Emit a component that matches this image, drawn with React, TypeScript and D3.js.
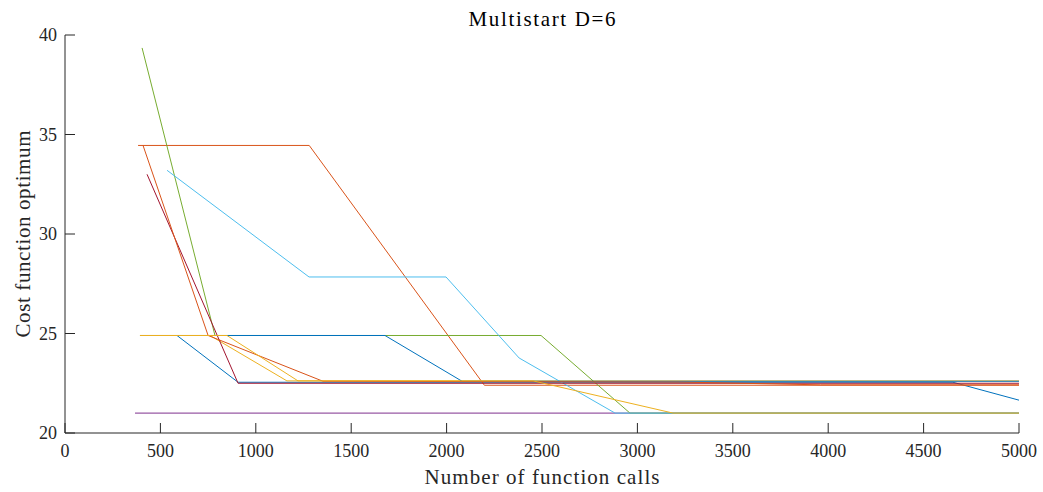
import React from 'react';
import * as d3 from 'd3';

// each run: [function calls, best cost so far]
const run1 = [[587, 24.9], [907, 22.55], [4654, 22.55], [5000, 21.65]];
const run2 = [[383, 34.45], [1280, 34.45], [2198, 22.4], [5000, 22.4]];
const run3 = [[393, 24.9], [760, 24.9], [1163, 22.62], [5000, 22.62]];
const run4 = [[367, 21.0], [5000, 21.0]];
const run5 = [[404, 39.35], [786, 24.9], [2495, 24.9], [2961, 21.0], [5000, 21.0]];
const run6 = [[535, 33.2], [1279, 27.84], [1997, 27.84], [2380, 23.77], [2883, 21.0], [5000, 21.0]];
const run7 = [[430, 33.0], [907, 22.5], [5000, 22.5]];
const run8 = [[393, 24.9], [1677, 24.9], [2081, 22.6], [5000, 22.6]];
const run9 = [[409, 34.45], [750, 24.9], [1352, 22.6], [3220, 22.56], [3960, 22.42], [5000, 22.42]];
const run10 = [[393, 24.9], [849, 24.9], [1221, 22.62], [2453, 22.62], [3187, 21.0], [5000, 21.0]];

const runs = [run1, run2, run3, run4, run5, run6, run7, run8, run9, run10];
const colors = ['#0072BD', '#D95319', '#EDB120', '#7E2F8E', '#77AC30', '#4DBEEE', '#A2142F'];

const xTicks = d3.range(0, 5001, 500);
const yTicks = [20, 25, 30, 35, 40];

const title = 'Multistart D=6';
const xLabel = 'Number of function calls';
const yLabel = 'Cost function optimum';

const W = 1043;
const H = 492;
const margin = { top: 35, right: 24, bottom: 59, left: 65 };
const font = '"Liberation Serif", "DejaVu Serif", serif';
const axisColor = '#262626';

export default function App() {
  const x = d3.scaleLinear().domain([0, 5000]).range([margin.left, W - margin.right]);
  const y = d3.scaleLinear().domain([20, 40]).range([H - margin.bottom, margin.top]);

  const line = d3.line<number[]>()
    .x(d => x(d[0]))
    .y(d => y(d[1]));

  const x0 = x.range()[0];
  const y0 = y.range()[0];
  const xMid = (x0 + x.range()[1]) / 2;

  return (
    <svg width={W} height={H} style={{ position: 'absolute', left: 0, top: 0, background: '#fff' }}>
      {runs.map((r, i) => (
        <path key={i} d={line(r) || ''} fill="none" stroke={colors[i % colors.length]} strokeWidth={1} />
      ))}

      {/* axes, ticks inward */}
      <line x1={x0} x2={x0} y1={y.range()[1]} y2={y0} stroke={axisColor} strokeWidth={1} />
      <line x1={x0} x2={x.range()[1]} y1={y0} y2={y0} stroke={axisColor} strokeWidth={1} />

      {xTicks.map(t => (
        <g key={'x' + t}>
          <line x1={x(t)} x2={x(t)} y1={y0} y2={y0 - 10} stroke={axisColor} strokeWidth={1} />
          <text x={x(t)} y={y0 + 24} textAnchor="middle" fontFamily={font} fontSize={18} fill={axisColor}>{t}</text>
        </g>
      ))}
      {yTicks.map(t => (
        <g key={'y' + t}>
          <line x1={x0} x2={x0 + 10} y1={y(t)} y2={y(t)} stroke={axisColor} strokeWidth={1} />
          <text x={x0 - 8} y={y(t) + 6} textAnchor="end" fontFamily={font} fontSize={18} fill={axisColor}>{t}</text>
        </g>
      ))}

      <text x={xMid} y={26} textAnchor="middle" fontFamily={font} fontSize={21} fill="#000"
        textLength={147} lengthAdjust="spacing">{title}</text>
      <text x={xMid} y={484} textAnchor="middle" fontFamily={font} fontSize={21} fill={axisColor}
        textLength={235} lengthAdjust="spacing">{xLabel}</text>
      <text transform={`translate(30,${(y0 + y.range()[1]) / 2}) rotate(-90)`} textAnchor="middle"
        fontFamily={font} fontSize={21} fill={axisColor} textLength={207} lengthAdjust="spacing">{yLabel}</text>
    </svg>
  );
}
